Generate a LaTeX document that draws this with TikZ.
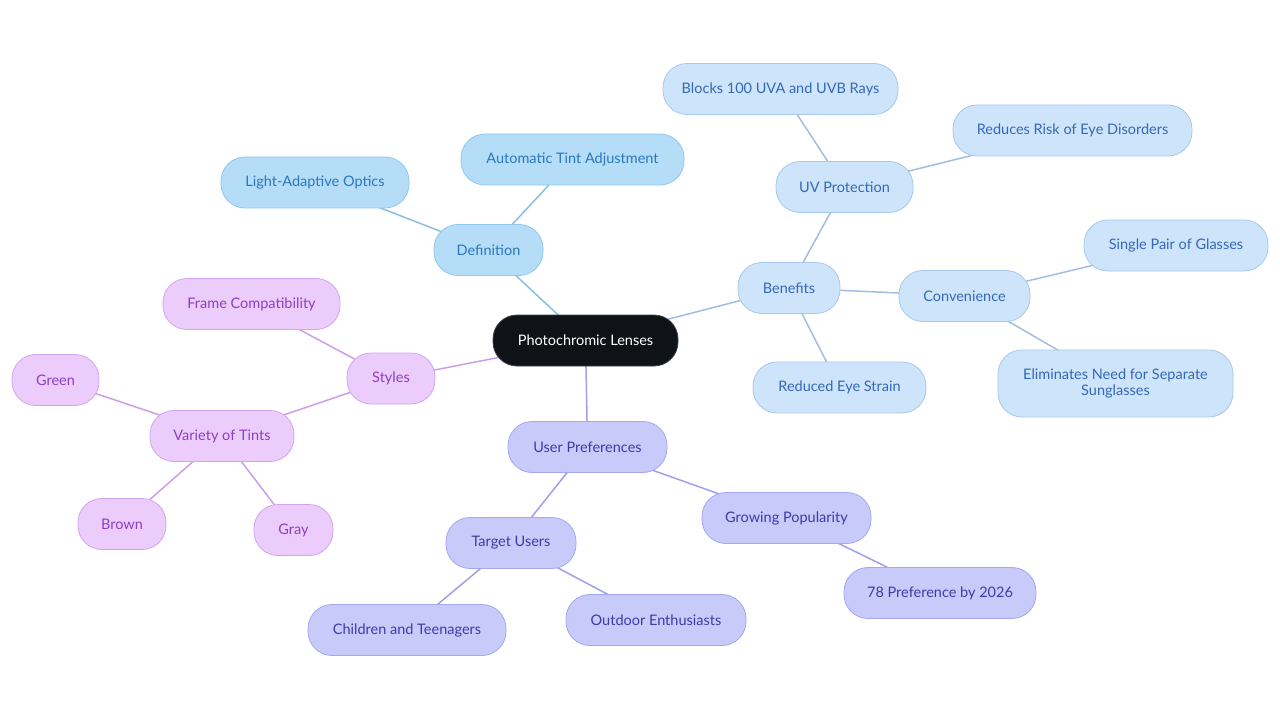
\documentclass[tikz,border=0pt]{standalone}
\usepackage{fontspec}
\setmainfont{Lato}
\usetikzlibrary{backgrounds}
\definecolor{defFill}{HTML}{B5DDF8}
\definecolor{defDraw}{HTML}{8EC8EE}
\definecolor{defText}{HTML}{2A78BE}
\definecolor{defLine}{HTML}{88BFE0}
\definecolor{benFill}{HTML}{CDE4FA}
\definecolor{benDraw}{HTML}{A6C8EE}
\definecolor{benText}{HTML}{3568B8}
\definecolor{benLine}{HTML}{A3BDE0}
\definecolor{usrFill}{HTML}{C8CAFA}
\definecolor{usrDraw}{HTML}{A5A8F0}
\definecolor{usrText}{HTML}{3C3CA8}
\definecolor{usrLine}{HTML}{9EA0E8}
\definecolor{styFill}{HTML}{ECCCFB}
\definecolor{styDraw}{HTML}{D2A5F0}
\definecolor{styText}{HTML}{8E3FC0}
\definecolor{styLine}{HTML}{C9A0E6}
\definecolor{ctrFill}{HTML}{0F1318}
\tikzset{
  box/.style={rectangle, rounded corners=24pt, line width=0.8pt, align=center,
    inner sep=0pt, font=\fontsize{14.5}{16}\selectfont, minimum height=51pt},
  defbox/.style={box, fill=defFill, draw=defDraw, text=defText},
  benbox/.style={box, fill=benFill, draw=benDraw, text=benText},
  usrbox/.style={box, fill=usrFill, draw=usrDraw, text=usrText},
  stybox/.style={box, fill=styFill, draw=styDraw, text=styText},
  ctrbox/.style={box, fill=ctrFill, draw=ctrFill!80!white, text=white},
  link/.style={line width=1.5pt},
}
\begin{document}
\begin{tikzpicture}[x=1pt,y=-1pt]
\useasboundingbox (0,0) rectangle (1280,722);
% center
\node[ctrbox, minimum width=185pt] (c) at (585.5,340.5) {Photochromic Lenses};
% definition
\node[defbox, minimum width=109pt] (def) at (488.5,250) {Definition};
\node[defbox, minimum width=223pt] (ata) at (572.5,159.5) {Automatic Tint Adjustment};
\node[defbox, minimum width=188pt] (lao) at (315,182.5) {Light-Adaptive Optics};
% benefits
\node[benbox, minimum width=102pt] (ben) at (789,288) {Benefits};
\node[benbox, minimum width=137pt] (uvp) at (844.5,187) {UV Protection};
\node[benbox, minimum width=235pt] (blk) at (780.5,89) {Blocks 100 UVA and UVB Rays};
\node[benbox, minimum width=239pt] (rre) at (1072.5,130.5) {Reduces Risk of Eye Disorders};
\node[benbox, minimum width=131pt] (con) at (964.5,296) {Convenience};
\node[benbox, minimum width=184pt] (spg) at (1176,245.5) {Single Pair of Glasses};
\node[benbox, minimum width=235pt, minimum height=67pt, font=\fontsize{14.5}{15.5}\selectfont] (eln) at (1115.5,383.5) {Eliminates Need for Separate\\Sunglasses};
\node[benbox, minimum width=173pt] (res) at (839.5,387.5) {Reduced Eye Strain};
% user preferences
\node[usrbox, minimum width=159pt] (usr) at (587.5,447) {User Preferences};
\node[usrbox, minimum width=130pt] (tgt) at (511,543) {Target Users};
\node[usrbox, minimum width=198pt] (cht) at (407,630) {Children and Teenagers};
\node[usrbox, minimum width=180pt] (out) at (656,620) {Outdoor Enthusiasts};
\node[usrbox, minimum width=169pt] (grp) at (786.5,518) {Growing Popularity};
\node[usrbox, minimum width=192pt] (pre) at (940,593) {78 Preference by 2026};
% styles
\node[stybox, minimum width=88pt] (sty) at (391,378.5) {Styles};
\node[stybox, minimum width=177pt] (frm) at (251.5,304) {Frame Compatibility};
\node[stybox, minimum width=144pt] (vot) at (222,436) {Variety of Tints};
\node[stybox, minimum width=87pt] (grn) at (55.5,380) {Green};
\node[stybox, minimum width=88pt] (brn) at (122,524) {Brown};
\node[stybox, minimum width=79pt] (gry) at (293.5,530) {Gray};
\begin{pgfonlayer}{background}
\draw[link, defLine] (c.center) -- (def.center);
\draw[link, defLine] (def.center) -- (ata.center);
\draw[link, defLine] (def.center) -- (lao.center);
\draw[link, benLine] (c.center) -- (ben.center);
\draw[link, benLine] (ben.center) -- (uvp.center);
\draw[link, benLine] (uvp.center) -- (blk.center);
\draw[link, benLine] (uvp.center) -- (rre.center);
\draw[link, benLine] (ben.center) -- (con.center);
\draw[link, benLine] (con.center) -- (spg.center);
\draw[link, benLine] (con.center) -- (eln.center);
\draw[link, benLine] (ben.center) -- (res.center);
\draw[link, usrLine] (c.center) -- (usr.center);
\draw[link, usrLine] (usr.center) -- (tgt.center);
\draw[link, usrLine] (tgt.center) -- (cht.center);
\draw[link, usrLine] (tgt.center) -- (out.center);
\draw[link, usrLine] (usr.center) -- (grp.center);
\draw[link, usrLine] (grp.center) -- (pre.center);
\draw[link, styLine] (c.center) -- (sty.center);
\draw[link, styLine] (sty.center) -- (frm.center);
\draw[link, styLine] (sty.center) -- (vot.center);
\draw[link, styLine] (vot.center) -- (grn.center);
\draw[link, styLine] (vot.center) -- (brn.center);
\draw[link, styLine] (vot.center) -- (gry.center);
\end{pgfonlayer}
\end{tikzpicture}
\end{document}
